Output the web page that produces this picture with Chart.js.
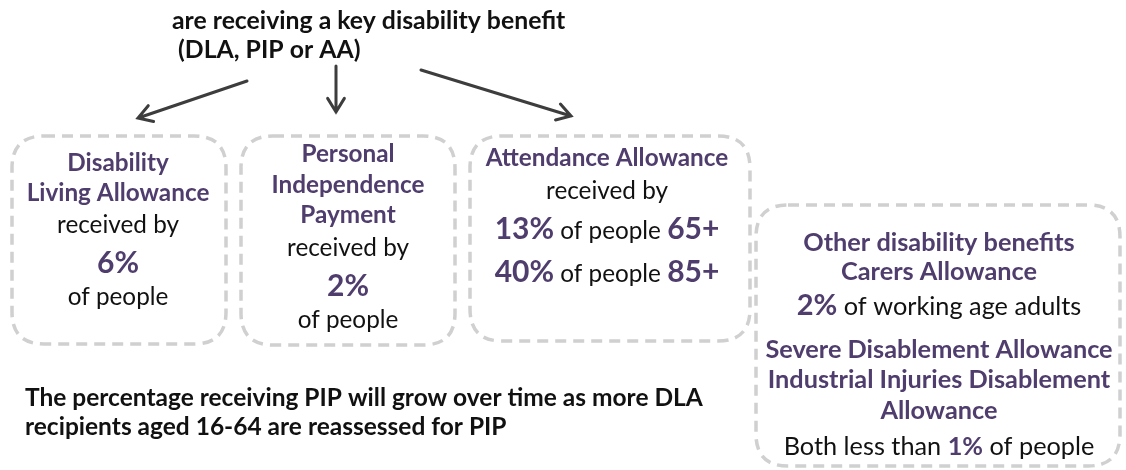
<!DOCTYPE html>
<html>
<head>
<meta charset="utf-8">
<script src="https://cdn.jsdelivr.net/npm/chart.js@4.4.1/dist/chart.umd.min.js"></script>
<style>
  html, body { margin: 0; padding: 0; background: #fff; }
  #wrap { width: 1126px; height: 470px; }
</style>
</head>
<body>
<div id="wrap"><canvas id="benefitChart"></canvas></div>
<script>
// データ
const benefits = ['Disability Living Allowance', 'Personal Independence Payment', 'Attendance Allowance',
                  'Carers Allowance', 'Severe Disablement Allowance', 'Industrial Injuries Disablement Allowance'];
const dlaPercent = [6];
const pipPercent = [2];
const aaPercent = [13, 40];
const aaAgeGroups = ['65+', '85+'];
const carersPercent = [2];
const otherPercent = [1];

const PURPLE = '#4f3d6d';
const BLACK = '#111111';
const FONT = 'Lato, "Open Sans", sans-serif';

// 1行 = いくつかの文字列の並び (s が無ければボックスの既定サイズ)
function r(t, opt) { return Object.assign({ t: t, b: false, p: false, s: null }, opt || {}); }
function title(t) { return [r(t, { b: true, p: true })]; }
function plain(t) { return [r(t)]; }
function pct(v, s) { return r(v + '%', { b: true, p: true, s: s || 30 }); }

// ボックスの位置 (ピクセル単位の配置)
const boxes = [
  { x0: 12, y0: 136, x1: 226, y1: 344, cx: 118, fs: 24.3,
    lines: [
      { y: 171, runs: title('Disability') },
      { y: 201, runs: title('Living Allowance') },
      { y: 233, runs: plain('received by') },
      { y: 273, runs: [pct(dlaPercent[0])] },
      { y: 305, runs: plain('of people') }
    ] },
  { x0: 241, y0: 136, x1: 455, y1: 345, cx: 348, fs: 24.3,
    lines: [
      { y: 162, runs: title('Personal') },
      { y: 193, runs: title('Independence') },
      { y: 223, runs: title('Payment') },
      { y: 256, runs: plain('received by') },
      { y: 296, runs: [pct(pipPercent[0])] },
      { y: 328, runs: plain('of people') }
    ] },
  { x0: 470, y0: 136, x1: 750, y1: 341, cx: 607, fs: 24.3,
    lines: [
      { y: 166, runs: title('Attendance Allowance') },
      { y: 199, runs: plain('received by') },
      { y: 239, runs: [pct(aaPercent[0]), r(' of people '), r(aaAgeGroups[0], { b: true, p: true, s: 30 })] },
      { y: 282, runs: [pct(aaPercent[1]), r(' of people '), r(aaAgeGroups[1], { b: true, p: true, s: 30 })] }
    ] },
  { x0: 756, y0: 205, x1: 1120, y1: 466, cx: 939, fs: 25.3,
    lines: [
      { y: 251, runs: title('Other disability benefits') },
      { y: 280, runs: title('Carers Allowance') },
      { y: 315, runs: [pct(carersPercent[0], 29), r(' of working age adults')] },
      { y: 358, runs: title('Severe Disablement Allowance') },
      { y: 388, runs: title('Industrial Injuries Disablement') },
      { y: 419, runs: title('Allowance') },
      { y: 455, runs: [r('Both less than '), r(otherPercent[0] + '%', { b: true, p: true }), r(' of people')] }
    ] }
];

const headLines = [
  { x: 172, y: 29, t: 'are receiving a key disability benefit' },
  { x: 178, y: 58, t: '(DLA, PIP or AA)' }
];
const footLines = [
  { x: 25, y: 406, t: 'The percentage receiving PIP will grow over time as more DLA' },
  { x: 25, y: 435, t: 'recipients aged 16-64 are reassessed for PIP' }
];
const arrows = [
  { from: [247, 81], to: [138, 118] },
  { from: [336, 66], to: [336, 112] },
  { from: [421, 70], to: [571, 116] }
];

function fontOf(run, fs) { return (run.b ? 'bold ' : '') + (run.s || fs) + 'px ' + FONT; }

function roundBox(ctx, x0, y0, x1, y1, rad) {
  ctx.beginPath();
  ctx.moveTo(x0 + rad, y0);
  ctx.lineTo(x1 - rad, y0);
  ctx.quadraticCurveTo(x1, y0, x1, y0 + rad);
  ctx.lineTo(x1, y1 - rad);
  ctx.quadraticCurveTo(x1, y1, x1 - rad, y1);
  ctx.lineTo(x0 + rad, y1);
  ctx.quadraticCurveTo(x0, y1, x0, y1 - rad);
  ctx.lineTo(x0, y0 + rad);
  ctx.quadraticCurveTo(x0, y0, x0 + rad, y0);
  ctx.closePath();
}

const infographic = {
  id: 'infographic',
  afterDraw(chart) {
    const ctx = chart.ctx;
    const sx = chart.scales.x, sy = chart.scales.y;
    const X = v => sx.getPixelForValue(v);
    const Y = v => sy.getPixelForValue(v);
    ctx.save();

    // 点線の角丸ボックス
    ctx.strokeStyle = '#d0d0d0';
    ctx.lineWidth = 3.5;
    ctx.setLineDash([11, 7]);
    boxes.forEach(b => {
      roundBox(ctx, X(b.x0), Y(b.y0), X(b.x1), Y(b.y1), 32);
      ctx.stroke();
    });
    ctx.setLineDash([]);

    // 矢印
    ctx.strokeStyle = '#3d3d3d';
    ctx.lineWidth = 3;
    ctx.lineCap = 'round';
    arrows.forEach(a => {
      const x1 = X(a.from[0]), y1 = Y(a.from[1]), x2 = X(a.to[0]), y2 = Y(a.to[1]);
      const ang = Math.atan2(y2 - y1, x2 - x1);
      ctx.beginPath();
      ctx.moveTo(x1, y1);
      ctx.lineTo(x2, y2);
      ctx.moveTo(x2 - 16 * Math.cos(ang - 0.55), y2 - 16 * Math.sin(ang - 0.55));
      ctx.lineTo(x2, y2);
      ctx.lineTo(x2 - 16 * Math.cos(ang + 0.55), y2 - 16 * Math.sin(ang + 0.55));
      ctx.stroke();
    });

    // 見出しと注記
    ctx.textBaseline = 'alphabetic';
    ctx.textAlign = 'left';
    ctx.fillStyle = BLACK;
    ctx.font = 'bold 24.8px ' + FONT;
    headLines.forEach(l => ctx.fillText(l.t, X(l.x), Y(l.y)));
    ctx.font = 'bold 24.5px ' + FONT;
    footLines.forEach(l => ctx.fillText(l.t, X(l.x), Y(l.y)));

    // ボックス内の文字
    boxes.forEach(b => {
      b.lines.forEach(line => {
        let total = 0;
        line.runs.forEach(run => { ctx.font = fontOf(run, b.fs); run.w = ctx.measureText(run.t).width; total += run.w; });
        let x = X(b.cx) - total / 2;
        line.runs.forEach(run => {
          ctx.font = fontOf(run, b.fs);
          ctx.fillStyle = run.p ? PURPLE : BLACK;
          ctx.fillText(run.t, x, Y(line.y));
          x += run.w;
        });
      });
    });
    ctx.restore();
  }
};

new Chart(document.getElementById('benefitChart').getContext('2d'), {
  type: 'scatter',
  data: { datasets: [{ data: [], label: 'benefits' }] },
  options: {
    responsive: true,
    maintainAspectRatio: false,
    animation: false,
    layout: { padding: 0 },
    scales: {
      x: { type: 'linear', min: 0, max: 1126, display: false },
      y: { type: 'linear', min: 0, max: 470, reverse: true, display: false }
    },
    plugins: { legend: { display: false }, tooltip: { enabled: false } }
  },
  plugins: [infographic]
});
</script>
</body>
</html>
